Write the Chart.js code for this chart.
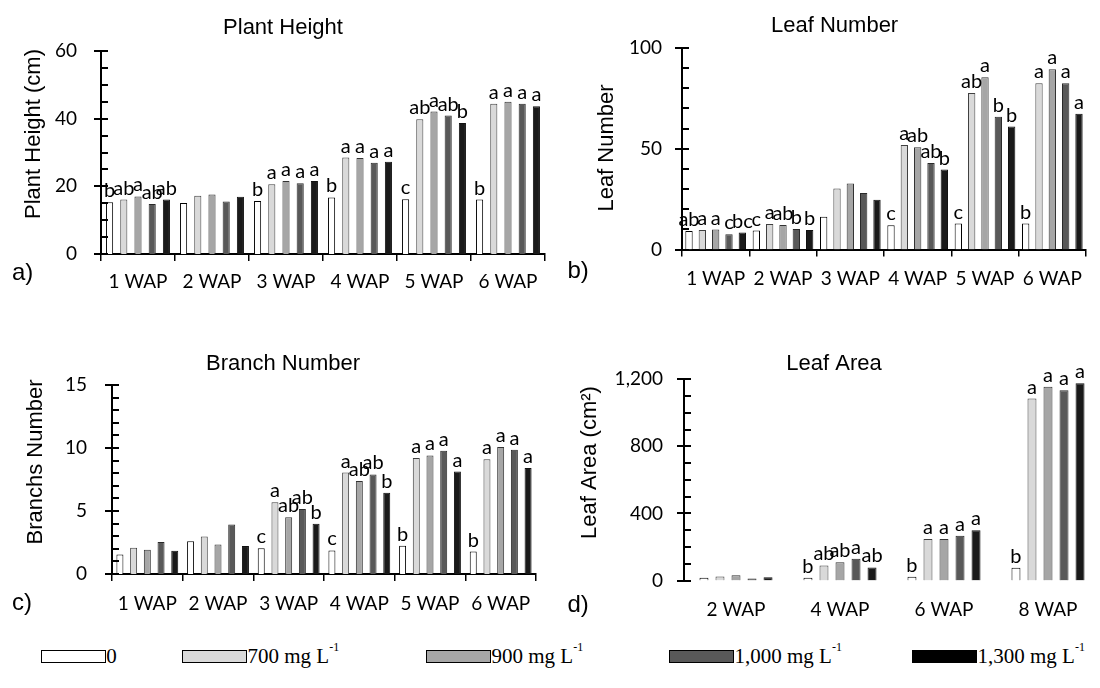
<!DOCTYPE html>
<html><head><meta charset="utf-8">
<script src="https://cdn.jsdelivr.net/npm/chart.js@4.4.1/dist/chart.umd.min.js"></script>
<style>
html,body{margin:0;padding:0;background:#fff;}
body{width:1100px;height:688px;position:relative;overflow:hidden;}
canvas{position:absolute;}
.lg-box{position:absolute;box-sizing:border-box;height:13px;width:65px;border:1px solid #000;top:650px;}
.lg-txt{position:absolute;top:646px;font-family:"Liberation Serif","Times New Roman",serif;font-size:21px;line-height:21px;color:#000;white-space:nowrap;}
.lg-txt sup{font-size:12px;line-height:0;vertical-align:top;position:relative;top:1px;}
</style></head><body>
<canvas id="cA" width="560" height="300" style="left:0;top:0"></canvas>
<canvas id="cB" width="550" height="300" style="left:550px;top:0"></canvas>
<canvas id="cC" width="560" height="320" style="left:0;top:300px"></canvas>
<canvas id="cD" width="550" height="320" style="left:550px;top:300px"></canvas>
<div id="legend"></div>
<script>
// ---------- data ----------
const weeks6 = ['1 WAP', '2 WAP', '3 WAP', '4 WAP', '5 WAP', '6 WAP'];
const weeksLA = ['2 WAP', '4 WAP', '6 WAP', '8 WAP'];
const doses = ['0', '700', '900', '1,000', '1,300'];
const doseUnit = 'mg L';
const doseUnitExp = '-1';

// rows = treatments (0, 700, 900, 1000, 1300); columns = weeks
const plantHeight = [
  [15.3, 15.1, 15.7, 16.7, 16.2, 16.1],
  [16.1, 17.2, 20.6, 28.5, 39.8, 44.4],
  [17.0, 17.6, 21.6, 28.4, 42.1, 45.0],
  [14.8, 15.5, 20.9, 27.0, 40.9, 44.4],
  [16.1, 16.9, 21.6, 27.3, 38.7, 43.7]
];
const plantHeightLetters = [
  ['b', '', 'b', 'b', 'c', 'b'],
  ['ab', '', 'a', 'a', 'ab', 'a'],
  ['a', '', 'a', 'a', 'a', 'a'],
  ['ab', '', 'a', 'a', 'ab', 'a'],
  ['ab', '', 'a', 'a', 'b', 'a']
];

const leafNumber = [
  [9.2, 9.4, 16.2, 12.0, 12.9, 12.9],
  [9.7, 12.7, 30.3, 51.8, 77.7, 82.5],
  [9.9, 12.2, 32.8, 50.7, 85.5, 89.5],
  [7.6, 10.2, 28.0, 42.9, 65.9, 82.5],
  [8.4, 9.7, 24.7, 39.7, 61.0, 67.4]
];
const leafNumberLetters = [
  ['ab', 'c', '', 'c', 'c', 'b'],
  ['a', 'a', '', 'a', 'ab', 'a'],
  ['a', 'ab', '', 'ab', 'a', 'a'],
  ['c', 'b', '', 'ab', 'b', 'a'],
  ['bc', 'b', '', 'b', 'b', 'a']
];

const branchNumber = [
  [1.55, 2.60, 2.05, 1.87, 2.25, 1.78],
  [2.08, 2.98, 5.70, 8.05, 9.20, 9.10],
  [1.92, 2.34, 4.50, 7.39, 9.41, 10.07],
  [2.53, 3.92, 5.15, 7.90, 9.78, 9.86],
  [1.85, 2.22, 3.99, 6.44, 8.13, 8.42]
];
const branchNumberLetters = [
  ['', '', 'c', 'c', 'b', 'b'],
  ['', '', 'a', 'a', 'a', 'a'],
  ['', '', 'ab', 'ab', 'a', 'a'],
  ['', '', 'ab', 'ab', 'a', 'a'],
  ['', '', 'b', 'b', 'a', 'a']
];

const leafArea = [
  [16, 16, 22, 76],
  [24, 90, 247, 1085],
  [32, 109, 247, 1156],
  [12, 129, 267, 1134],
  [20, 78, 300, 1176]
];
const leafAreaLetters = [
  ['', 'b', 'b', 'b'],
  ['', 'ab', 'a', 'a'],
  ['', 'ab', 'a', 'a'],
  ['', 'a', 'a', 'a'],
  ['', 'ab', 'a', 'a']
];

// ---------- styles ----------
const fills = ['#ffffff', '#d9d9d9', '#a6a6a6', '#595959', '#1a1a1a'];
const legendFills = ['#ffffff', '#d9d9d9', '#a6a6a6', '#595959', '#000000'];
const edges = ['#000000', '#404040', '#333333', '#2a2a2a', '#111111'];

Chart.defaults.font.family = 'Lato, "Open Sans", sans-serif';
Chart.defaults.font.size = 19;
Chart.defaults.color = '#000';

const deco = {
  id: 'deco',
  afterDatasetsDraw(chart, args, o) {
    const ctx = chart.ctx;
    ctx.save();
    ctx.font = '20px Lato, sans-serif';
    ctx.fillStyle = '#000';
    ctx.textAlign = 'center';
    ctx.textBaseline = 'alphabetic';
    o.letters.forEach((row, i) => {
      const meta = chart.getDatasetMeta(i);
      row.forEach((t, j) => {
        if (!t) return;
        const el = meta.data[j];
        ctx.fillText(t, el.x, el.y - 5);
      });
    });
    ctx.restore();
  },
  afterDraw(chart, args, o) {
    const ctx = chart.ctx, y = chart.scales.y;
    ctx.save();
    ctx.strokeStyle = '#000';
    ctx.lineWidth = 2;
    const n = Math.round(y.max / o.minor);
    const per = Math.round(o.major / o.minor);
    const ax = chart.chartArea.left;
    for (let k = 0; k <= n; k++) {
      const py = Math.round(y.getPixelForValue(k * o.minor));
      ctx.beginPath();
      ctx.moveTo(k % per === 0 ? ax - 7 : ax, py);
      ctx.lineTo(ax + 7, py);
      ctx.stroke();
    }
    ctx.fillStyle = '#000';
    ctx.textBaseline = 'alphabetic';
    ctx.textAlign = 'center';
    ctx.font = '22px "Liberation Sans", Arial, sans-serif';
    ctx.fillText(o.title.text, o.title.x, o.title.y);
    ctx.save();
    ctx.translate(o.ytitle.x, o.ytitle.y);
    ctx.rotate(-Math.PI / 2);
    ctx.font = '22px "Liberation Sans", Arial, sans-serif';
    ctx.fillText(o.ytitle.text, 0, 0);
    ctx.restore();
    ctx.textAlign = 'left';
    ctx.font = '24px "Liberation Sans", Arial, sans-serif';
    ctx.fillText(o.panel.text, o.panel.x, o.panel.y);
    ctx.restore();
  }
};

function makeChart(id, c) {
  return new Chart(document.getElementById(id), {
    type: 'bar',
    data: {
      labels: c.labels,
      datasets: c.series.map((vals, i) => ({
        label: doses[i],
        data: vals,
        backgroundColor: fills[i],
        borderColor: edges[i],
        borderWidth: 1,
        categoryPercentage: c.catPct,
        barPercentage: c.barPct
      }))
    },
    options: {
      responsive: false,
      animation: false,
      devicePixelRatio: 1,
      layout: { padding: c.padding },
      plugins: {
        legend: { display: false },
        tooltip: { enabled: false },
        deco: { letters: c.letters, major: c.major, minor: c.minor, title: c.title, ytitle: c.ytitle, panel: c.panel }
      },
      scales: {
        x: {
          offset: true,
          grid: { display: c.xTicks, drawOnChartArea: false, drawTicks: c.xTicks, tickLength: 7, color: '#000', lineWidth: 1.5, offset: true },
          border: { display: c.xTicks, color: '#000', width: 2 },
          ticks: { padding: c.xPad, maxRotation: 0, autoSkip: false, font: { size: 19 } },
          afterFit: s => { s.height = c.xHeight; }
        },
        y: {
          min: 0, max: c.max,
          grid: { display: false, drawTicks: false },
          border: { display: true, color: '#000', width: 2 },
          ticks: { stepSize: c.major, padding: c.yPad, font: { size: 19 }, callback: v => Number(v).toLocaleString('en-US') },
          afterFit: s => { s.width = c.yWidth; }
        }
      }
    },
    plugins: [deco]
  });
}

makeChart('cA', {
  labels: weeks6, series: plantHeight, letters: plantHeightLetters,
  catPct: 0.96, barPct: 0.5, max: 60, major: 20, minor: 5,
  padding: { left: 0, top: 51, right: 15, bottom: 0 }, yWidth: 101, xHeight: 46,
  yPad: 24, xPad: 9, xTicks: true,
  title: { text: 'Plant Height', x: 283, y: 34 },
  ytitle: { text: 'Plant Height (cm)', x: 39.5, y: 134 },
  panel: { text: 'a)', x: 12, y: 280 }
});
makeChart('cB', {
  labels: weeks6, series: leafNumber, letters: leafNumberLetters,
  catPct: 0.99, barPct: 0.55, max: 100, major: 50, minor: 10,
  padding: { left: 0, top: 48, right: 14, bottom: 0 }, yWidth: 132, xHeight: 50.5,
  yPad: 20, xPad: 11, xTicks: true,
  title: { text: 'Leaf Number', x: 284.6, y: 32.3 },
  ytitle: { text: 'Leaf Number', x: 63, y: 148 },
  panel: { text: 'b)', x: 17.5, y: 278 }
});
makeChart('cC', {
  labels: weeks6, series: branchNumber, letters: branchNumberLetters,
  catPct: 0.97, barPct: 0.51, max: 15, major: 5, minor: 1,
  padding: { left: 0, top: 85, right: 24, bottom: 0 }, yWidth: 112, xHeight: 46,
  yPad: 25, xPad: 11, xTicks: true,
  title: { text: 'Branch Number', x: 283, y: 70 },
  ytitle: { text: 'Branchs Number', x: 41.5, y: 162 },
  panel: { text: 'c)', x: 12, y: 310 }
});
makeChart('cD', {
  labels: weeksLA, series: leafArea, letters: leafAreaLetters,
  catPct: 0.77, barPct: 0.56, max: 1200, major: 400, minor: 100,
  padding: { left: 0, top: 79.3, right: 0, bottom: 0 }, yWidth: 134, xHeight: 39.5,
  yPad: 21, xPad: 17.5, xTicks: false,
  title: { text: 'Leaf Area', x: 284, y: 70 },
  ytitle: { text: 'Leaf Area (cm\u00B2)', x: 46, y: 162.5 },
  panel: { text: 'd)', x: 17.5, y: 312 }
});

// ---------- legend (HTML) ----------
const legendX = [40.7, 182, 426, 669, 912];
const lg = document.getElementById('legend');
doses.forEach((d, i) => {
  const box = document.createElement('div');
  box.className = 'lg-box';
  box.style.left = legendX[i] + 'px';
  box.style.background = legendFills[i];
  lg.appendChild(box);
  const t = document.createElement('div');
  t.className = 'lg-txt';
  t.style.left = (legendX[i] + 65.5) + 'px';
  if (i === 0) {
    t.textContent = d;
  } else {
    t.appendChild(document.createTextNode(d + ' ' + doseUnit));
    const s = document.createElement('sup');
    s.textContent = doseUnitExp;
    t.appendChild(s);
  }
  lg.appendChild(t);
});
</script>
</body></html>
